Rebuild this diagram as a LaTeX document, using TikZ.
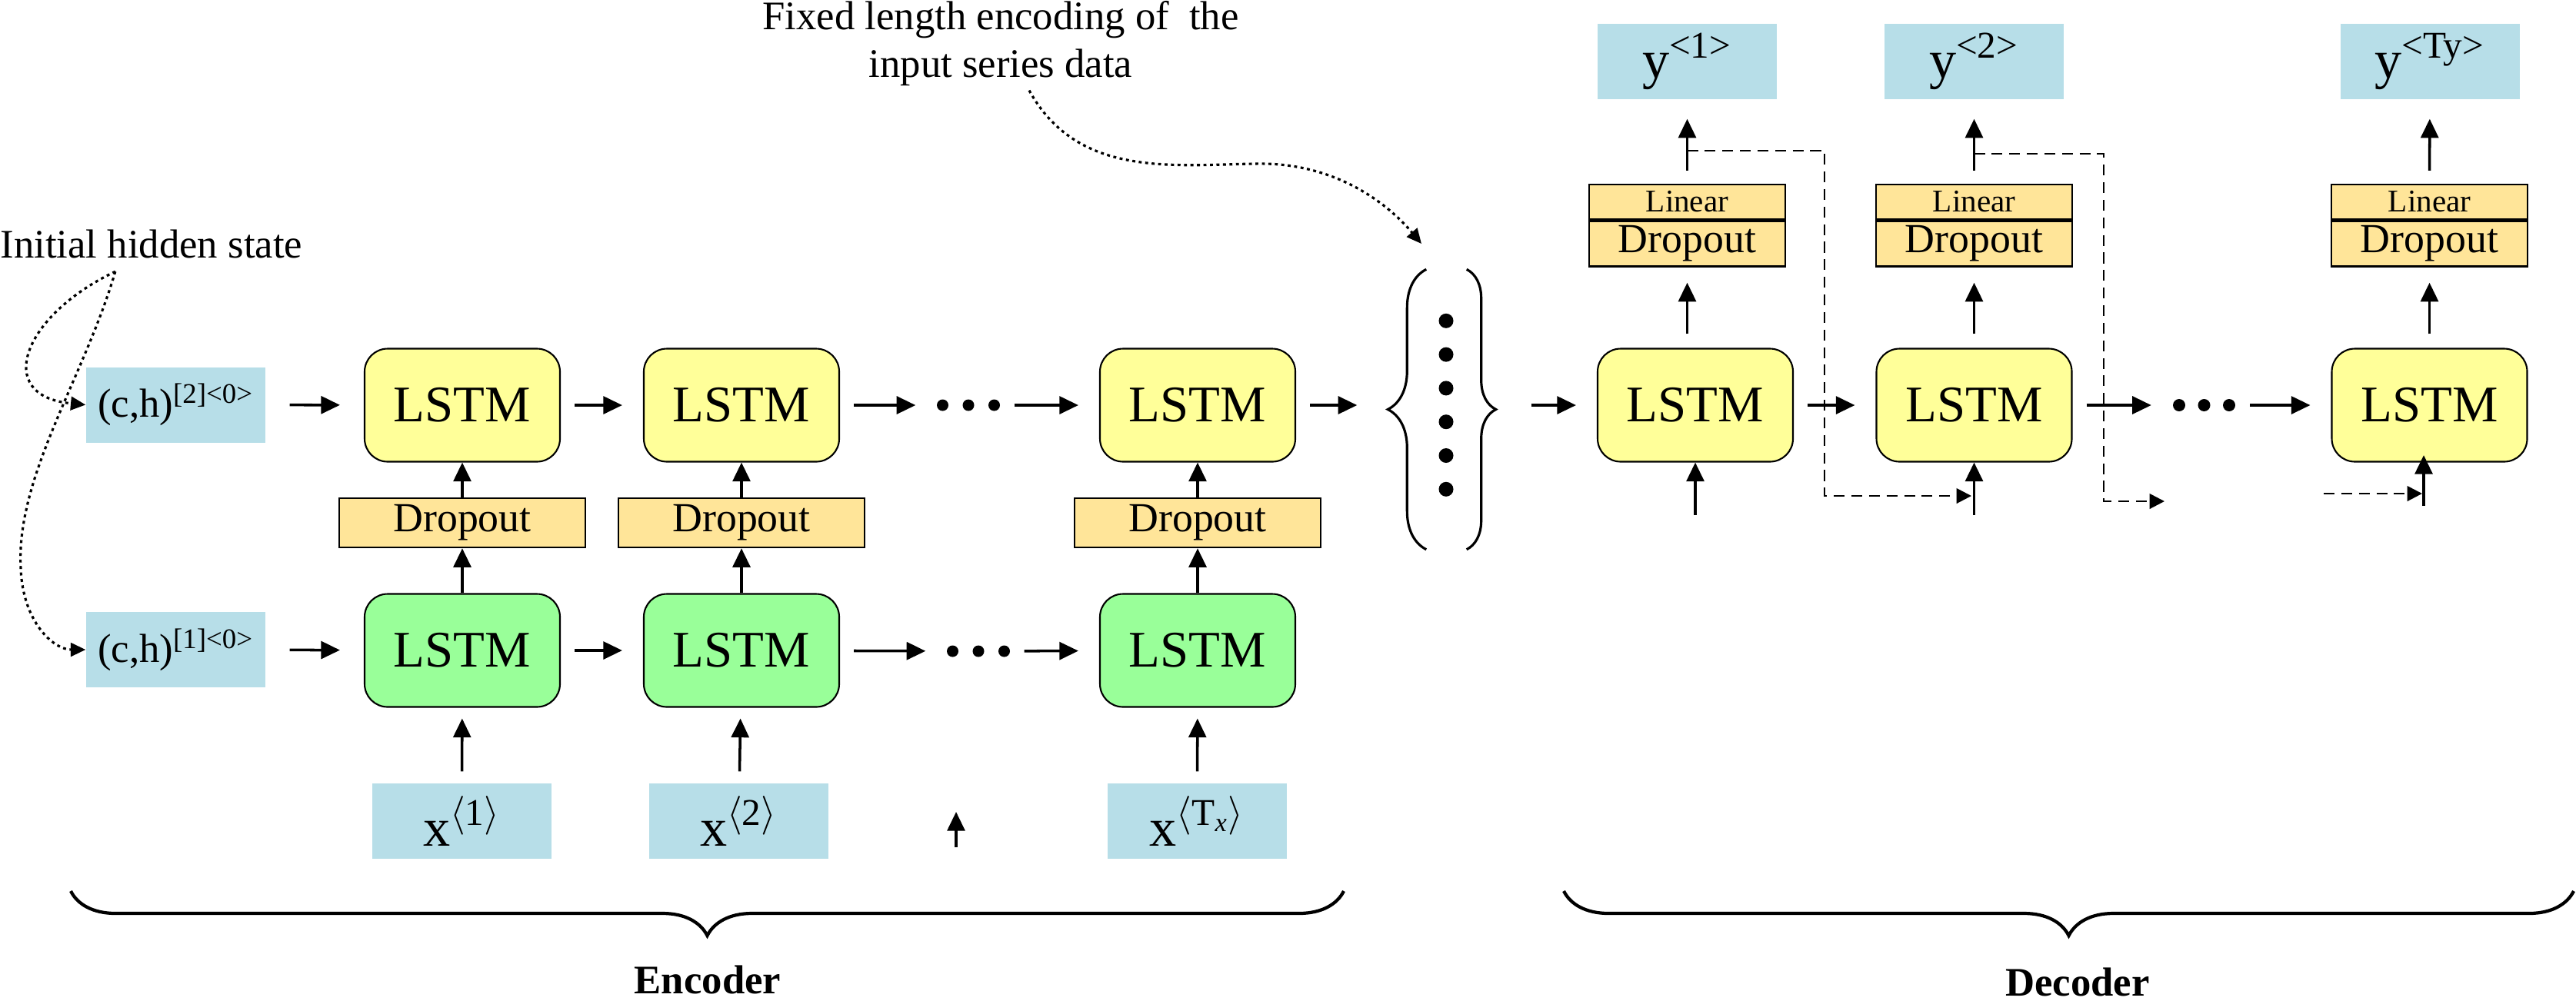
\documentclass[tikz,border=0pt]{standalone}
\usepackage{amsmath, amssymb}
\usepackage[usenames,dvipsnames]{xcolor}
\usepackage{fontspec}
\setmainfont{Liberation Serif}
\usepackage{tikz}
\usetikzlibrary{calc,positioning,arrows.meta,decorations.pathreplacing}

\definecolor{inblue}{RGB}{183,222,232}
\definecolor{lstmyel}{RGB}{255,255,153}
\definecolor{lstmgrn}{RGB}{153,255,153}
\definecolor{droptan}{RGB}{255,229,153}

\begin{document}
\begin{tikzpicture}[
  lstm/.style={draw, line width=0.6pt, rounded corners=0.3cm, minimum width=2.54cm,
    minimum height=1.47cm, inner sep=0, font=\fontsize{19}{22}\selectfont},
  ylstm/.style={lstm, fill=lstmyel},
  glstm/.style={lstm, fill=lstmgrn},
  dropbox/.style={draw, line width=0.7pt, fill=droptan, minimum width=3.2cm,
    minimum height=0.64cm, inner sep=0, font=\fontsize{15.3}{18}\selectfont},
  linbox/.style={draw, line width=0.7pt, fill=droptan, minimum width=2.55cm,
    minimum height=0.45cm, inner sep=0, font=\fontsize{11.7}{14}\selectfont},
  decdrop/.style={linbox, minimum height=0.59cm, font=\fontsize{15.3}{18}\selectfont},
  inbox/.style={fill=inblue, minimum width=2.33cm, minimum height=0.98cm, inner sep=0},
  chbox/.style={inbox, font=\fontsize{15}{18}\selectfont},
  xybox/.style={inbox, font=\fontsize{20}{24}\selectfont},
  dotrow/.style={minimum width=0.82cm, minimum height=0.16cm, inner sep=0},
  arr/.style={-{Triangle[length=7pt,width=6.5pt]}, line width=1pt},
  harr/.style={arr, shorten <=0.18cm, shorten >=0.27cm},
  varr/.style={arr, shorten <=0.18cm, shorten >=0.2cm},
  fb/.style={-{Triangle[length=5.5pt,width=5.5pt]}, line width=0.8pt, dash pattern=on 4pt off 2.5pt},
  call/.style={-{Triangle[length=5.5pt,width=5pt]}, line width=0.9pt, dash pattern=on 1.1pt off 1.3pt},
  brc/.style={decorate, line width=1.2pt}
]
\useasboundingbox (0,0) rectangle (33.49,-13.01);

% labels at the top
\node[anchor=base west, inner sep=0, font=\fontsize{15}{18}\selectfont] (init) at (0,-3.35) {Initial hidden state};
\node[align=center, anchor=north, inner sep=0, font=\fontsize{15}{17.6}\selectfont] (fixtxt) at (13.01,-0.01)
  {Fixed length encoding of\ \ the\\input series data};

% encoder
\node[chbox] (ch2) at (2.285,-5.265) {(c,h)\textsuperscript{[2]<0>}};
\node[chbox] (ch1) at (2.285,-8.45) {(c,h)\textsuperscript{[1]<0>}};

\node[ylstm] (encT1) at (6.01,-5.27) {LSTM};
\node[ylstm] (encT2) at (9.64,-5.27) {LSTM};
\node[ylstm] (encT3) at (15.57,-5.27) {LSTM};
\node[dropbox] (drop1) at (6.01,-6.80) {Dropout};
\node[dropbox] (drop2) at (9.64,-6.80) {Dropout};
\node[dropbox] (drop3) at (15.57,-6.80) {Dropout};
\node[glstm] (encB1) at (6.01,-8.46) {LSTM};
\node[glstm] (encB2) at (9.64,-8.46) {LSTM};
\node[glstm] (encB3) at (15.57,-8.46) {LSTM};

\node[xybox] (x1) at (6.005,-10.68) {x\textsuperscript{$\langle$1$\rangle$}};
\node[xybox] (x2) at (9.605,-10.68) {x\textsuperscript{$\langle$2$\rangle$}};
\node[xybox] (x3) at (15.565,-10.68) {x\textsuperscript{$\langle$T\textsubscript{\textit{x}}$\rangle$}};

\node[dotrow] (dotT) at (12.59,-5.27) {};
\node[dotrow] (dotB) at (12.72,-8.47) {};
\foreach \d in {-0.335,0,0.335} {
  \fill ([xshift=\d cm]dotT) circle [radius=0.075];
  \fill ([xshift=\d cm]dotB) circle [radius=0.075];
}

\draw[harr, shorten <=0.31cm, shorten >=0.31cm] (ch2) -- (encT1);
\draw[harr] (encT1) -- (encT2);
\draw[harr] (encT2) -- (dotT);
\draw[harr] (dotT) -- (encT3);
\draw[harr, shorten <=0.31cm, shorten >=0.31cm] (ch1) -- (encB1);
\draw[harr] (encB1) -- (encB2);
\draw[harr] (encB2) -- (dotB);
\draw[harr] (dotB) -- (encB3);

\foreach \i in {1,2,3} {
  \draw[arr] (encB\i) -- (drop\i);
  \draw[arr] (drop\i) -- (encT\i);
  \draw[varr, shorten <=0.15cm, shorten >=0.14cm] (x\i) -- (encB\i);
}
\coordinate (sa) at (12.43,-11.02);
\coordinate (sb) at (12.43,-10.56);
\draw[arr] (sa) -- (sb);

% fixed length vector
\node[minimum width=1.39cm, minimum height=3.63cm, inner sep=0] (vec) at (18.745,-5.325) {};
\draw[decorate, decoration={brace, amplitude=0.5cm}, line width=0.9pt]
  ([xshift=0.5cm]vec.south west) -- ([xshift=0.5cm]vec.north west);
\draw[decorate, decoration={brace, amplitude=0.38cm}, line width=0.9pt]
  ([xshift=-0.38cm]vec.north east) -- ([xshift=-0.38cm]vec.south east);
\foreach \i in {0,...,5}
  \fill ($(vec.north)+(0.055,-0.67-\i*0.438)$) circle [radius=0.095];
\draw[harr, shorten >=0.4cm] (encT3) -- (encT3 -| vec.west);

% decoder
\node[ylstm] (dec1) at (22.04,-5.27) {LSTM};
\node[ylstm] (dec2) at (25.665,-5.27) {LSTM};
\node[ylstm] (dec3) at (31.585,-5.27) {LSTM};
\node[dotrow] (dotD) at (28.655,-5.27) {};
\foreach \d in {-0.325,0,0.325}
  \fill ([xshift=\d cm]dotD) circle [radius=0.08];

\node[linbox] (lin1) at (21.935,-2.625) {Linear};
\node[linbox] (lin2) at (25.665,-2.625) {Linear};
\node[linbox] (lin3) at (31.585,-2.625) {Linear};
\node[decdrop, below=0pt of lin1] (ddrop1) {Dropout};
\node[decdrop, below=0pt of lin2] (ddrop2) {Dropout};
\node[decdrop, below=0pt of lin3] (ddrop3) {Dropout};

\node[xybox] (y1) at (21.935,-0.80) {y\textsuperscript{<1>}};
\node[xybox] (y2) at (25.665,-0.80) {y\textsuperscript{<2>}};
\node[xybox] (y3) at (31.59,-0.80) {y\textsuperscript{<Ty>}};

\draw[harr, shorten <=0.46cm] (vec.east |- dec1) -- (dec1);
\draw[harr] (dec1) -- (dec2);
\draw[harr] (dec2) -- (dotD);
\draw[harr] (dotD) -- (dec3);

\foreach \i in {1,2,3} {
  \draw[varr] (dec\i.north -| lin\i) -- (ddrop\i);
  \draw[varr, shorten <=0.17cm, shorten >=0.25cm] (lin\i) -- (y\i);
}

\coordinate (in1) at (22.04,-6.70);
\coordinate (in2) at (25.665,-6.70);
\coordinate (in3) at (31.51,-6.58);
\coordinate (in3top) at (31.51,-5.92);
\draw[arr] (in1) -- (dec1);
\draw[arr] (in2) -- (dec2);
\draw[arr] (in3) -- (in3top);

% feedback of the outputs
\coordinate (fb1a) at (21.935,-1.96);
\coordinate (fb1b) at (23.72,-6.45);
\coordinate (fb1c) at (25.63,-6.45);
\coordinate (fb2a) at (25.665,-2.00);
\coordinate (fb2b) at (27.35,-6.52);
\coordinate (fb2c) at (28.14,-6.52);
\coordinate (fb3a) at (30.21,-6.42);
\coordinate (fb3b) at (31.49,-6.42);
\draw[fb] (fb1a) -| (fb1b) -- (fb1c);
\draw[fb] (fb2a) -| (fb2b) -- (fb2c);
\draw[fb] (fb3a) -- (fb3b);

% callouts
\coordinate (vectip) at (18.48,-3.17);
\draw[call] ([xshift=-0.47cm,yshift=-0.17cm]init.south) .. controls (0.3,-4.1) and (-0.1,-5.15) .. (ch2.west);
\draw[call] ([xshift=-0.47cm,yshift=-0.17cm]init.south) .. controls (1.1,-4.9) and (0.2,-6.2) .. (0.27,-7.4)
  .. controls (0.3,-8.1) and (0.7,-8.45) .. (ch1.west);
\draw[call] ([xshift=0.37cm,yshift=-0.05cm]fixtxt.south) .. controls (14.0,-2.3) and (15.2,-2.15) .. (16.3,-2.13)
  .. controls (17.3,-2.1) and (18.0,-2.6) .. (vectip);

% braces
\draw[brc, decoration={brace, amplitude=0.58cm}] (17.47,-11.59) -- (0.92,-11.59);
\draw[brc, decoration={brace, amplitude=0.58cm}] (33.46,-11.59) -- (20.33,-11.59);
\node[anchor=base, font=\bfseries\fontsize{15}{18}\selectfont] (enclab) at (9.20,-12.92) {Encoder};
\node[anchor=base, font=\bfseries\fontsize{15}{18}\selectfont] (declab) at (27.01,-12.95) {Decoder};
\end{tikzpicture}
\end{document}
